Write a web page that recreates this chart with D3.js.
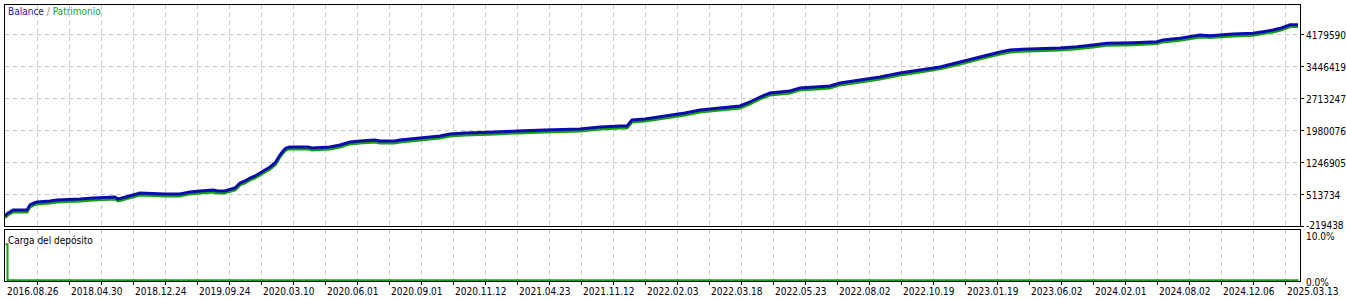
<!DOCTYPE html>
<meta charset="utf-8">
<style>
body { margin: 0; background: #fff; }
svg { display: block; font-family: "DejaVu Sans Condensed", "Liberation Sans", sans-serif; }
.grid line { stroke: #c4c4c4; stroke-dasharray: 4,4; shape-rendering: crispEdges; }
.frame { fill: none; stroke: #000; shape-rendering: crispEdges; }
.lbl { font-size: 10px; fill: #000; }
</style>
<svg width="1346" height="299"></svg>
<script src="https://d3js.org/d3.v7.min.js"></script>
<script>

// deal number of each sampled point
var deals = [0, 3, 5, 8, 22, 25, 29, 32, 45, 52, 75, 88, 110, 113, 117, 128, 135, 160, 175, 185,
  195, 208, 213, 220, 223, 230, 235, 240, 245, 250, 255, 260, 265, 270, 275, 278, 281, 285, 303, 307,
  325, 335, 345, 355, 370, 375, 390, 395, 415, 435, 445, 460, 490, 512, 540, 575, 595, 615, 622, 627,
  640, 660, 680, 695, 715, 735, 745, 755, 765, 785, 795, 825, 835, 855, 875, 895, 915, 935, 955, 975,
  995, 1005, 1017, 1055, 1072, 1088, 1102, 1128, 1152, 1158, 1175, 1195, 1205, 1228, 1248, 1258, 1268, 1275, 1282, 1285,
  1293];

var balance = [10000, 78000, 101000, 147000, 147000, 262000, 308000, 330000, 353000, 376000, 399000, 422000, 445000, 399000, 422000, 491000, 537000, 514000, 514000, 560000,
  582000, 605000, 582000, 582000, 605000, 651000, 766000, 812000, 880000, 926000, 995000, 1064000, 1132000, 1224000, 1407000, 1499000, 1568000, 1591000, 1591000, 1568000,
  1591000, 1636000, 1705000, 1728000, 1751000, 1728000, 1728000, 1751000, 1797000, 1843000, 1888000, 1911000, 1934000, 1957000, 1980000, 2003000, 2049000, 2072000, 2072000, 2209000,
  2232000, 2301000, 2370000, 2438000, 2484000, 2530000, 2622000, 2736000, 2828000, 2874000, 2942000, 2988000, 3057000, 3126000, 3194000, 3286000, 3355000, 3424000, 3538000, 3653000,
  3767000, 3813000, 3829000, 3859000, 3888000, 3928000, 3966000, 3980000, 4003000, 4042000, 4081000, 4157000, 4141000, 4180000, 4195000, 4232000, 4271000, 4310000, 4363000, 4393000,
  4393000];

var equity = [-30000, 35000, 60000, 104000, 104000, 218000, 265000, 287000, 310000, 332000, 356000, 378000, 401000, 356000, 378000, 448000, 492000, 470000, 470000, 516000,
  538000, 561000, 538000, 538000, 561000, 607000, 722000, 768000, 836000, 882000, 951000, 1020000, 1088000, 1180000, 1363000, 1455000, 1524000, 1547000, 1547000, 1524000,
  1547000, 1592000, 1661000, 1684000, 1707000, 1684000, 1684000, 1707000, 1753000, 1799000, 1844000, 1867000, 1890000, 1913000, 1936000, 1959000, 2005000, 2028000, 2028000, 2165000,
  2188000, 2257000, 2326000, 2394000, 2440000, 2486000, 2578000, 2692000, 2784000, 2830000, 2898000, 2944000, 3013000, 3082000, 3150000, 3242000, 3311000, 3380000, 3494000, 3609000,
  3723000, 3769000, 3785000, 3815000, 3844000, 3884000, 3922000, 3936000, 3959000, 3998000, 4037000, 4113000, 4097000, 4136000, 4151000, 4188000, 4227000, 4266000, 4319000, 4349000,
  4349000];

// deposit load, %
var loadDeals = [0, 2, 3, 1293];
var load = [7.8, 0.15, 0.15, 0.15];

var yTicks = [-219438, 513734, 1246905, 1980076, 2713247, 3446419, 4179590];
var dateTicks = [0, 64, 128, 192, 256, 320, 384, 448, 512, 576, 640, 704, 768, 832, 896, 960, 1024, 1088, 1152, 1216, 1280];
var dateLabels = ["2016.08.26", "2018.04.30", "2018.12.24", "2019.09.24", "2020.03.10", "2020.06.01", "2020.09.01",
  "2020.11.12", "2021.04.23", "2021.11.12", "2022.02.03", "2022.03.18", "2022.05.23", "2022.08.02", "2022.10.19",
  "2023.01.19", "2023.06.02", "2024.02.01", "2024.08.02", "2024.12.06", "2025.03.13"];

var svg = d3.select("svg");

var left = 4.5, right = 1300.5;
var mainTop = 4.5, mainBot = 226.5;
var subTop = 229.5, subBot = 281.5;

var x = d3.scaleLinear().domain([0, 1293]).range([5, 1298]);
var y = d3.scaleLinear().domain([-219438, 4179590]).range([226, 34]);
var yLoad = d3.scaleLinear().domain([0, 10]).range([281, 234]);

// grid: vertical every 32 deals, horizontal at y ticks
var vg = d3.range(32, 1293, 32);
var grid = svg.append("g").attr("class", "grid");
grid.selectAll(".v1").data(vg).enter().append("line")
    .attr("x1", function(d) { return Math.round(x(d)) + 0.5; })
    .attr("x2", function(d) { return Math.round(x(d)) + 0.5; })
    .attr("y1", mainTop).attr("y2", mainBot);
grid.selectAll(".v2").data(vg).enter().append("line")
    .attr("x1", function(d) { return Math.round(x(d)) + 0.5; })
    .attr("x2", function(d) { return Math.round(x(d)) + 0.5; })
    .attr("y1", subTop).attr("y2", subBot);
grid.selectAll(".h").data(yTicks.slice(1)).enter().append("line")
    .attr("x1", left).attr("x2", right)
    .attr("y1", function(d) { return Math.round(y(d)) + 0.5; })
    .attr("y2", function(d) { return Math.round(y(d)) + 0.5; });

var line = d3.line()
    .x(function(d, i) { return x(deals[i]); })
    .y(function(d) { return y(d); });

svg.append("path").datum(equity)
    .attr("d", line)
    .attr("fill", "none").attr("stroke", "#16a016").attr("stroke-width", 3);
svg.append("path").datum(balance)
    .attr("d", line)
    .attr("fill", "none").attr("stroke", "#0c0caa").attr("stroke-width", 3);

svg.append("path").datum(load)
    .attr("d", d3.line().curve(d3.curveStepAfter)
      .x(function(d, i) { return x(loadDeals[i]) + 0.5; })
      .y(function(d) { return yLoad(d); }))
    .attr("fill", "none").attr("stroke", "#16a016").attr("stroke-width", 2);

// frames
svg.append("rect").attr("class", "frame")
    .attr("x", left).attr("y", mainTop).attr("width", right - left).attr("height", mainBot - mainTop);
svg.append("rect").attr("class", "frame")
    .attr("x", left).attr("y", subTop).attr("width", right - left).attr("height", subBot - subTop);

// right axis
var ax = svg.append("g");
ax.selectAll("line").data(yTicks).enter().append("line")
    .attr("x1", 1301).attr("x2", 1304)
    .attr("y1", function(d) { return Math.round(y(d)) + 0.5; })
    .attr("y2", function(d) { return Math.round(y(d)) + 0.5; })
    .attr("stroke", "#000");
ax.selectAll("text").data(yTicks).enter().append("text")
    .attr("class", "lbl")
    .attr("x", 1306)
    .attr("y", function(d, i) { return y(d) + (i == 0 ? 3 : 5); })
    .text(function(d) { return d; });

svg.append("text").attr("class", "lbl").attr("x", 1306).attr("y", yLoad(10) + 6).text("10.0%");
svg.append("text").attr("class", "lbl").attr("x", 1306).attr("y", yLoad(0) + 5).text("0.0%");

// bottom axis
var bx = svg.append("g");
bx.selectAll("line").data(vg).enter().append("line")
    .attr("x1", function(d) { return Math.round(x(d)) + 0.5; })
    .attr("x2", function(d) { return Math.round(x(d)) + 0.5; })
    .attr("y1", 282).attr("y2", 285)
    .attr("stroke", "#000");
bx.selectAll("text").data(dateTicks).enter().append("text")
    .attr("class", "lbl")
    .attr("x", function(d) { return x(d) + 2; })
    .attr("y", 295)
    .text(function(d, i) { return dateLabels[i]; });

// titles
var t = svg.append("text").attr("class", "lbl").attr("x", 8).attr("y", 15);
t.append("tspan").attr("fill", "#1a1a9a").text("Balance");
t.append("tspan").attr("fill", "#808080").text(" / ");
t.append("tspan").attr("fill", "#20a020").text("Patrimonio");

svg.append("text").attr("class", "lbl").attr("x", 8).attr("y", 244).text("Carga del depósito");

</script>
